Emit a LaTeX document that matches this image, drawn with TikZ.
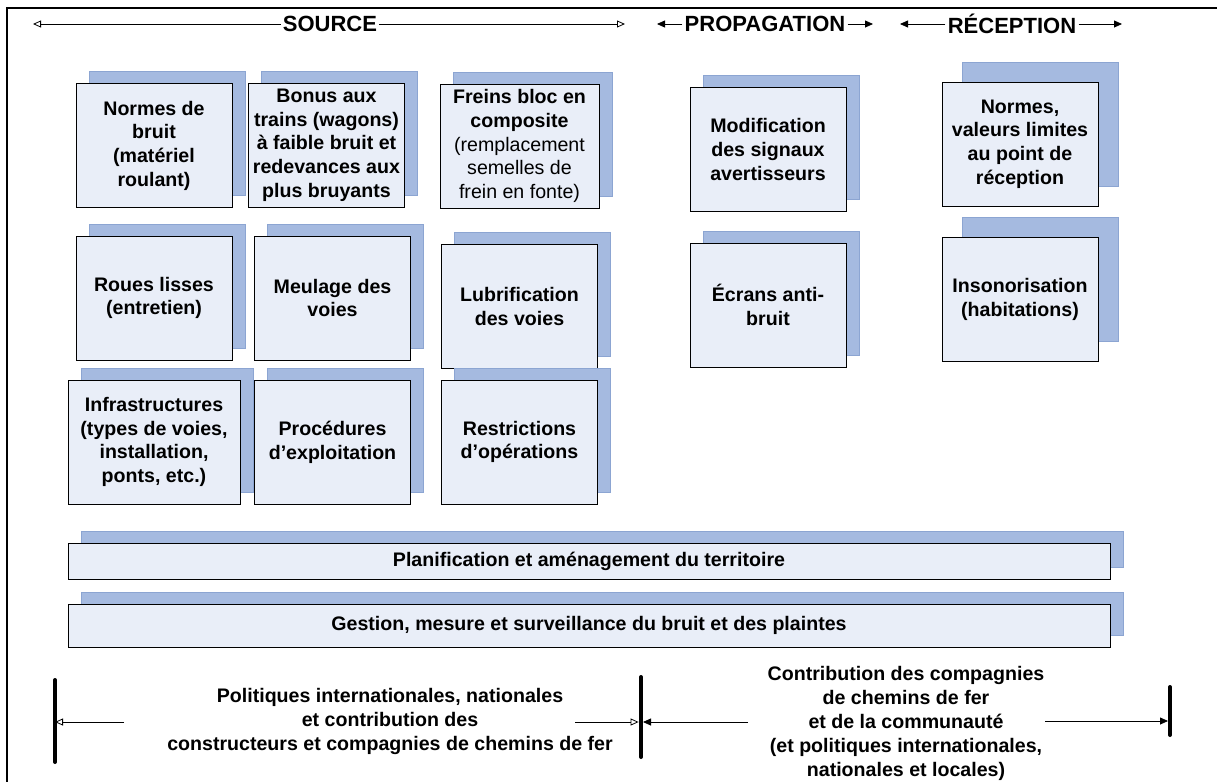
\documentclass[tikz,border=0pt]{standalone}
\usepackage{fontspec}
\setmainfont{Liberation Sans}
\usetikzlibrary{arrows.meta,shadows}

\definecolor{boxfill}{RGB}{233,238,248}
\definecolor{boxback}{RGB}{165,186,224}
\definecolor{boxbackline}{RGB}{140,165,210}

\begin{document}
\begin{tikzpicture}[x=0.5pt,y=-0.5pt,
    plainbox/.style={draw=black, line width=0.5pt, fill=boxfill, align=center,
      inner sep=1pt, minimum width=78pt, minimum height=62pt,
      font=\bfseries\fontsize{9.8}{11.85}\selectfont},
    box/.style={plainbox, copy shadow={shadow xshift=6.5pt, shadow yshift=6pt,
        fill=boxback, draw=boxbackline, line width=0.4pt}},
    farbox/.style={plainbox, copy shadow={shadow xshift=10pt, shadow yshift=10pt,
        fill=boxback, draw=boxbackline, line width=0.4pt}},
    band/.style={box, minimum width=521pt},
    head/.style={font=\bfseries\fontsize{11}{13}\selectfont, inner sep=1pt},
    note/.style={align=center, font=\bfseries\fontsize{9.8}{12}\selectfont},
    openarrow/.style={-{Triangle[open,length=4pt,width=3.5pt]}, line width=0.4pt},
    fullarrow/.style={-{Triangle[length=4pt,width=3.5pt]}, line width=0.4pt},
    limit/.style={line width=2pt, line cap=round}]

  % page size and frame
  \useasboundingbox (0,0) rectangle (1217,782);
  \draw[line width=0.6pt] (7,782) -- (7,8);
  \draw[line width=1.2pt] (6,8) -- (1217,8);

  % headings
  \node[head] (source) at (330,24) {SOURCE};
  \coordinate (sourcel) at (33,24);
  \coordinate (sourcer) at (625,24);
  \draw[openarrow] (source.west) -- (sourcel);
  \draw[openarrow] (source.east) -- (sourcer);

  \node[head] (propag) at (765,24) {PROPAGATION};
  \coordinate (propagl) at (657,24);
  \coordinate (propagr) at (873,24);
  \draw[fullarrow] (propag.west) -- (propagl);
  \draw[fullarrow] (propag.east) -- (propagr);

  \node[head] (recep) at (1012,24) {RÉCEPTION};
  \coordinate (recepl) at (900,24);
  \coordinate (recepr) at (1122,24);
  \draw[fullarrow] (recep.west) -- (recepl);
  \draw[fullarrow] (recep.east) -- (recepr);

  % source, first row
  \node[box] (normes) at (154,145.5) {Normes de\\bruit\\(matériel\\roulant)};
  \node[box] (bonus) at (326.5,145) {Bonus aux\\trains (wagons)\\à faible bruit et\\redevances aux\\plus bruyants};
  \node[box, minimum width=79.5pt] (freins) at (519.5,146)
    {Freins bloc en\\composite\\\mdseries(remplacement\\\mdseries semelles de\\\mdseries frein en fonte)};

  % source, second row
  \node[box] (roues) at (154,298) {Roues lisses\\(entretien)};
  \node[box] (meulage) at (332.5,298) {Meulage des\\voies};
  \node[box] (lubrif) at (519.5,306.5) {Lubrification\\des voies};

  % source, third row
  \node[box, minimum width=86pt] (infra) at (154,442)
    {Infrastructures\\(types de voies,\\installation,\\ponts, etc.)};
  \node[box] (proced) at (332.5,442) {Procédures\\d’exploitation};
  \node[box] (restric) at (519.5,442) {Restrictions\\d’opérations};

  % propagation
  \node[box] (signaux) at (768,149.5) {Modification\\des signaux\\avertisseurs};
  \node[box] (ecrans) at (768,305) {Écrans anti-\\bruit};

  % reception
  \node[farbox] (valeurs) at (1020,144) {Normes,\\valeurs limites\\au point de\\réception};
  \node[farbox] (isol) at (1020,299.5) {Insonorisation\\(habitations)};

  % wide bands
  \node[band, minimum height=18pt] (planif) at (589,561)
    {Planification et aménagement du territoire};
  \node[band, minimum height=21.5pt] (gestion) at (589,625.5)
    {Gestion, mesure et surveillance du bruit et des plaintes};

  % bottom limits
  \coordinate (lima) at (55,680);
  \coordinate (limb) at (55,762);
  \coordinate (limc) at (641,677);
  \coordinate (limd) at (641,757);
  \coordinate (lime) at (1170,687);
  \coordinate (limf) at (1170,735);
  \draw[limit] (lima) -- (limb);
  \draw[limit] (limc) -- (limd);
  \draw[limit] (lime) -- (limf);

  % bottom texts
  \node[note] (politiq) at (390,721)
    {Politiques internationales, nationales\\et contribution des\\constructeurs et compagnies de chemins de fer};
  \node[note] (contrib) at (906,723)
    {Contribution des compagnies\\de chemins de fer\\et de la communauté\\(et politiques internationales,\\nationales et locales)};

  % bottom arrows
  \coordinate (pola) at (124,722);
  \coordinate (polb) at (575,722);
  \coordinate (cona) at (748,722);
  \coordinate (conb) at (1045,721);
  \draw[openarrow] (pola) -- (pola -| lima);
  \draw[openarrow] (polb) -- ([xshift=-1.2pt]polb -| limc);
  \draw[fullarrow] (cona) -- ([xshift=1pt]cona -| limc);
  \draw[fullarrow] (conb) -- ([xshift=-1pt]conb -| lime);
\end{tikzpicture}
\end{document}
